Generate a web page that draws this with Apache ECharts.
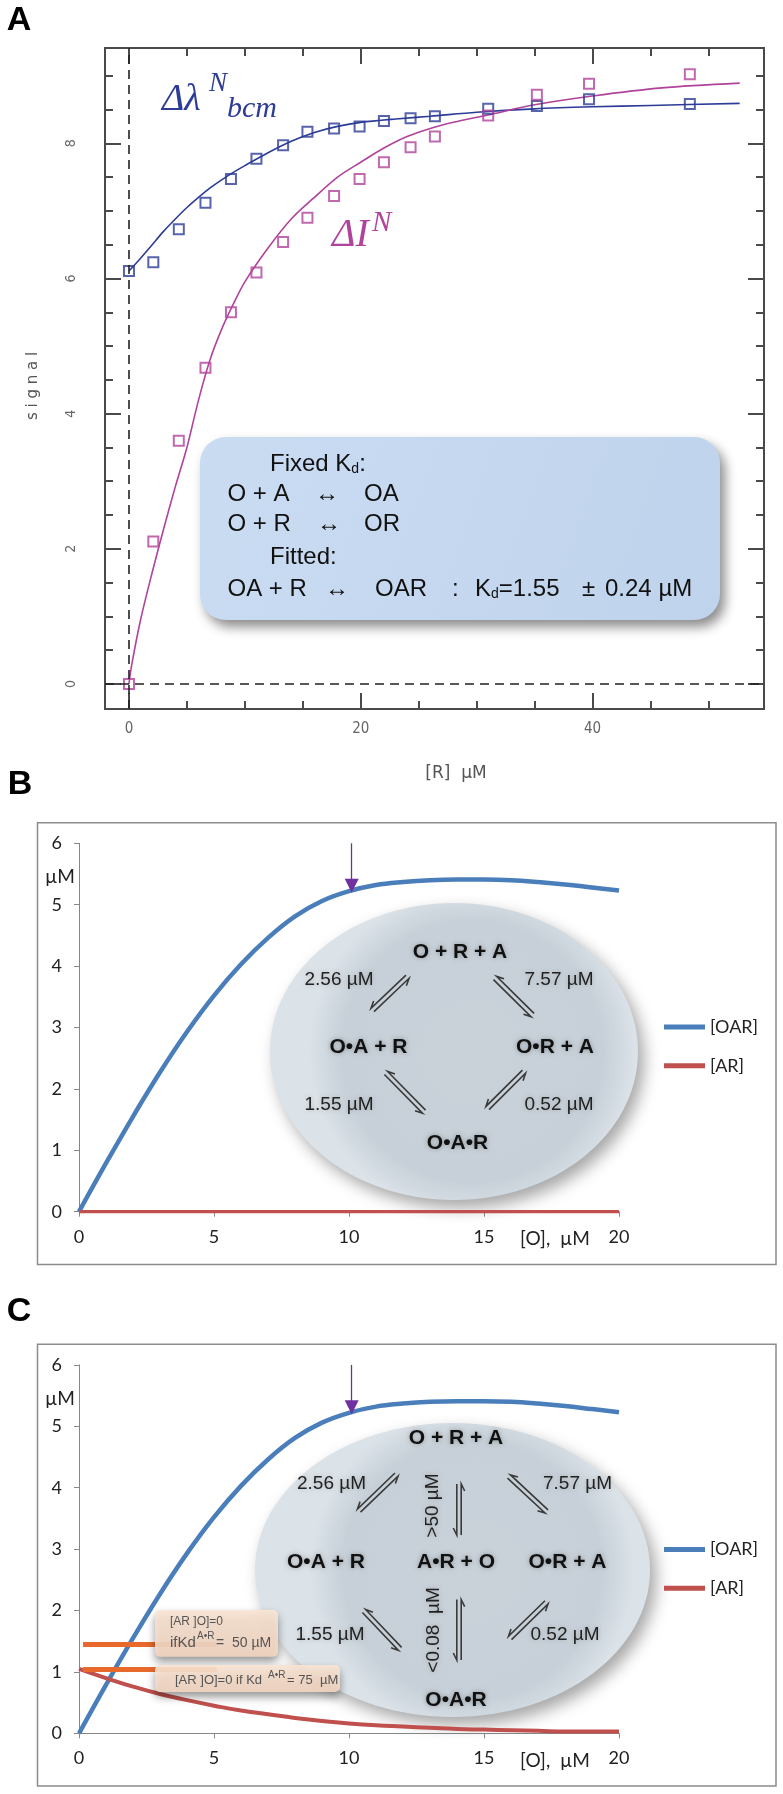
<!DOCTYPE html>
<html>
<head>
<meta charset="utf-8">
<script src="https://cdn.jsdelivr.net/npm/echarts@6/dist/echarts.min.js"></script>
<style>
  html, body { margin: 0; padding: 0; background: #fff; }
  #chart { width: 783px; height: 1794px; }
</style>
</head>
<body>
<div id="chart"></div>
<script>
// ---- panel A: titration data ----
const xPtsA = [0, 2.1, 4.3, 6.6, 8.8, 11.0, 13.3, 15.4, 17.7, 19.9, 22.0, 24.3, 26.4, 31.0, 35.2, 39.7, 48.4]
const lambdaPts = [6.11, 6.24, 6.73, 7.12, 7.47, 7.77, 7.97, 8.17, 8.22, 8.25, 8.33, 8.37, 8.40, 8.51, 8.55, 8.65, 8.58]
const intensPts = [0, 2.11, 3.60, 4.68, 5.50, 6.09, 6.54, 6.90, 7.22, 7.47, 7.72, 7.94, 8.10, 8.41, 8.72, 8.88, 9.02]

const lambdaFitX = [0, 1, 2, 3, 4, 5, 6, 7, 8, 9, 10, 12, 14, 16, 18, 20, 23, 26, 30, 35, 40, 45, 52.7]
const lambdaFitY = [6.11, 6.3, 6.5, 6.7, 6.88, 7.05, 7.2, 7.34, 7.46, 7.57, 7.67, 7.86, 8.03, 8.16, 8.25, 8.31, 8.36, 8.4, 8.46, 8.51, 8.54, 8.56, 8.59]
const intensFitX = [0, 0.2, 1, 2, 3, 4, 5, 6, 7, 8, 9, 10, 12, 14, 16, 18, 20, 22, 24, 26, 28, 31, 35, 40, 46, 52.7]
const intensFitY = [0, 0.25, 0.95, 1.65, 2.3, 2.92, 3.5, 4.2, 4.8, 5.25, 5.62, 5.95, 6.45, 6.88, 7.2, 7.5, 7.72, 7.93, 8.1, 8.22, 8.31, 8.42, 8.57, 8.7, 8.82, 8.89]

const xTicksA = [0, 5, 10, 15, 20, 25, 30, 35, 40, 45, 50]
const xLabelsA = [0, 20, 40]
const yTicksA = [0, 0.5, 1, 1.5, 2, 2.5, 3, 3.5, 4, 4.5, 5, 5.5, 6, 6.5, 7, 7.5, 8, 8.5, 9]
const yLabelsA = [0, 2, 4, 6, 8]

// ---- panels B and C: simulated concentrations ----
const oX = [0, 1, 2, 3, 4, 5, 6, 7, 8, 9, 10, 11, 12, 13, 14, 15, 16, 17, 18, 19, 20]
const oarY = [0, 0.79, 1.55, 2.27, 2.93, 3.52, 4.03, 4.46, 4.81, 5.06, 5.22, 5.32, 5.37, 5.4, 5.41, 5.41, 5.4, 5.37, 5.33, 5.28, 5.23]
const arYB = [0, 0, 0, 0, 0, 0, 0, 0, 0, 0, 0, 0, 0, 0, 0, 0, 0, 0, 0, 0, 0]
const arYC = [1.05, 0.9, 0.76, 0.64, 0.54, 0.45, 0.37, 0.31, 0.25, 0.2, 0.16, 0.13, 0.11, 0.09, 0.07, 0.06, 0.05, 0.04, 0.03, 0.03, 0.03]

const BLUE_A = '#2d3c96'
const MAG_A = '#b0439b'
const OAR_C = '#4a7ebb'
const AR_C = '#c0504d'
const SANS = 'Liberation Sans, Arial, sans-serif'
const SERIF = 'Liberation Serif, Times New Roman, serif'
const PIX = 'DejaVu Sans Condensed, DejaVu Sans, sans-serif'
const LATO = 'Lato, Open Sans, sans-serif'

const pts = (xs, ys) => xs.map((x, i) => [x, ys[i]])

function txt(x, y, s, o, extra) {
  return Object.assign({
    type: 'text', x: x, y: y, z: 30,
    style: Object.assign({ text: s, fill: '#111', fontFamily: SANS, fontSize: 19, align: 'center', verticalAlign: 'middle' }, o)
  }, extra || {})
}

// pair of half-arrows (equilibrium sign) between two points
function harpoons(x1, y1, x2, y2) {
  const dx = x2 - x1, dy = y2 - y1, L = Math.hypot(dx, dy)
  const ux = dx / L, uy = dy / L, nx = -uy, ny = ux, o = 2.2, h = 7, b = 3.5
  const st = { stroke: '#3a3a3a', lineWidth: 1.6, fill: null }
  return [
    { type: 'polyline', z: 25, shape: { points: [[x1 + nx * o, y1 + ny * o], [x2 + nx * o, y2 + ny * o], [x2 + nx * o - ux * h + nx * b, y2 + ny * o - uy * h + ny * b]] }, style: st },
    { type: 'polyline', z: 25, shape: { points: [[x2 - nx * o, y2 - ny * o], [x1 - nx * o, y1 - ny * o], [x1 - nx * o + ux * h - nx * b, y1 - ny * o + uy * h - ny * b]] }, style: st }
  ]
}

function ellipse(cx, cy, rx, ry) {
  return {
    type: 'ellipse', z: 1, shape: { cx: cx, cy: cy, rx: rx, ry: ry },
    style: {
      fill: new echarts.graphic.RadialGradient(0.55, 0.5, 0.55, [
        { offset: 0, color: '#c9d1d9' }, { offset: 0.8, color: '#c7d0d8' }, { offset: 1, color: '#dbe2e8' }
      ]),
      shadowBlur: 16, shadowColor: 'rgba(0,0,0,0.35)', shadowOffsetX: 6, shadowOffsetY: 8
    }
  }
}

const aTick = { color: '#4a4a4a', width: 2 }
function axA(dim, pos, ticks, len, labels) {
  const ax = {
    gridIndex: 0, type: 'value', position: pos,
    min: dim === 'x' ? -2.07 : -0.37, max: dim === 'x' ? 54.8 : 9.41,
    axisLine: { show: false, onZero: false }, splitLine: { show: false },
    axisTick: { inside: true, length: len, customValues: ticks, lineStyle: aTick },
    axisLabel: { show: false }
  }
  if (labels) {
    ax.axisLabel = dim === 'x'
      ? { customValues: labels, margin: 13, color: '#666', fontFamily: PIX, fontSize: 15 }
      : { customValues: labels, rotate: 90, margin: 27, color: '#666', fontFamily: PIX, fontSize: 14 }
  }
  return ax
}

const axBC = (g) => ({
  gridIndex: g, type: 'value', splitLine: { show: false },
  axisLine: { lineStyle: { color: '#878787', width: 1 } },
  axisTick: { length: 5, lineStyle: { color: '#878787' } },
  axisLabel: { margin: 16, fontFamily: LATO, fontSize: 18, color: '#222' }
})

const graphics = []
// frames of B and C
graphics.push({ type: 'rect', z: 0, shape: { x: 37.5, y: 822.7, width: 738.5, height: 441.7 }, style: { fill: null, stroke: '#8c8c8c', lineWidth: 1.5 } })
graphics.push({ type: 'rect', z: 0, shape: { x: 37.5, y: 1344.3, width: 738.5, height: 441.7 }, style: { fill: null, stroke: '#8c8c8c', lineWidth: 1.5 } })

// panel letters
graphics.push(txt(19, 21, 'A', { fontSize: 34, fontWeight: 'bold', fill: '#000' }))
graphics.push(txt(20, 785, 'B', { fontSize: 34, fontWeight: 'bold', fill: '#000' }))
graphics.push(txt(19, 1312, 'C', { fontSize: 34, fontWeight: 'bold', fill: '#000' }))

// panel A labels
graphics.push(txt(162, 100, 'Δλ', { fontFamily: SERIF, fontStyle: 'italic', fontSize: 38, fill: BLUE_A, align: 'left' }))
graphics.push(txt(209, 84, 'N', { fontFamily: SERIF, fontStyle: 'italic', fontSize: 27, fill: BLUE_A, align: 'left' }))
graphics.push(txt(227, 109, 'bcm', { fontFamily: SERIF, fontStyle: 'italic', fontSize: 30, fill: BLUE_A, align: 'left' }))
graphics.push(txt(332, 235, 'ΔI', { fontFamily: SERIF, fontStyle: 'italic', fontSize: 40, fill: MAG_A, align: 'left' }))
graphics.push(txt(372, 223, 'N', { fontFamily: SERIF, fontStyle: 'italic', fontSize: 29, fill: MAG_A, align: 'left' }))
graphics.push(txt(33, 386, 's i g n a l', { fontFamily: 'DejaVu Sans', fontSize: 15, fill: '#555' }, { rotation: Math.PI / 2 }))
graphics.push(txt(456, 774, '[R]  µM', { fontFamily: 'DejaVu Sans', fontSize: 17, fill: '#555' }))

// panel A fit box
graphics.push({
  type: 'rect', z: 10, shape: { x: 200, y: 437, width: 520, height: 183, r: 26 },
  style: {
    fill: new echarts.graphic.LinearGradient(0, 0, 1, 1, [{ offset: 0, color: '#cadcf2' }, { offset: 1, color: '#bfd3ec' }]),
    shadowBlur: 12, shadowColor: 'rgba(0,0,0,0.45)', shadowOffsetX: 5, shadowOffsetY: 7
  }
})
const boxT = { fontSize: 24, align: 'left', fill: '#111' }
const kdRich = { n: { fontSize: 24, fontFamily: SANS }, s: { fontSize: 14, fontFamily: SANS, verticalAlign: 'bottom' } }
graphics.push(txt(270, 464.5, '{n|Fixed K}{s|d}{n|:}', { align: 'left', rich: kdRich }))
graphics.push(txt(227.5, 494.5, 'O + A', boxT))
graphics.push(txt(315, 494.5, '↔', boxT))
graphics.push(txt(364, 494.5, 'OA', boxT))
graphics.push(txt(227.5, 524.5, 'O + R', boxT))
graphics.push(txt(317, 524.5, '↔', boxT))
graphics.push(txt(364, 524.5, 'OR', boxT))
graphics.push(txt(270, 557.8, 'Fitted:', boxT))
graphics.push(txt(227.5, 589.5, 'OA + R', boxT))
graphics.push(txt(325, 589.5, '↔', boxT))
graphics.push(txt(375, 589.5, 'OAR', boxT))
graphics.push(txt(452, 589.5, ':', boxT))
graphics.push(txt(475, 589.5, '{n|K}{s|d}{n|=1.55}', { align: 'left', rich: kdRich }))
graphics.push(txt(582, 589.5, '±', boxT))
graphics.push(txt(605, 589.5, '0.24 µM', boxT))

// panels B and C axis titles
const axT = { fontFamily: LATO, fontSize: 19, fill: '#222' }
graphics.push(txt(60, 877, 'µM', axT))
graphics.push(txt(60, 1398.5, 'µM', axT))
graphics.push(txt(555, 1239, '[O],  µM', axT))
graphics.push(txt(555, 1760.5, '[O],  µM', axT))

// panel B scheme
const sp = { fontWeight: 'bold', fontSize: 21, textShadowBlur: 5, textShadowColor: 'rgba(0,0,0,0.3)' }
const kd = { fontSize: 19, fill: '#222', textShadowBlur: 4, textShadowColor: 'rgba(0,0,0,0.2)' }
graphics.push(ellipse(454, 1051.5, 184, 148.5))
graphics.push(txt(460, 952, 'O + R + A', sp))
graphics.push(txt(339, 980, '2.56 µM', kd))
graphics.push(txt(559, 980, '7.57 µM', kd))
graphics.push(txt(368.5, 1047, 'O•A + R', sp))
graphics.push(txt(555, 1047, 'O•R + A', sp))
graphics.push(txt(339, 1105, '1.55 µM', kd))
graphics.push(txt(559, 1105, '0.52 µM', kd))
graphics.push(txt(457.5, 1143.5, 'O•A•R', sp))
graphics.push(...harpoons(372.5, 1010, 407.5, 976.7))
graphics.push(...harpoons(495, 978, 532.5, 1015))
graphics.push(...harpoons(424, 1111.7, 386, 1073))
graphics.push(...harpoons(487.5, 1108, 524, 1071.7))

// panel C scheme
graphics.push(ellipse(452.5, 1570, 197.5, 147))
graphics.push(txt(456, 1438, 'O + R + A', sp))
graphics.push(txt(331.5, 1484, '2.56 µM', kd))
graphics.push(txt(577.5, 1484, '7.57 µM', kd))
graphics.push(txt(433, 1505.5, '>50 µM', kd, { rotation: Math.PI / 2 }))
graphics.push(txt(326, 1562, 'O•A + R', sp))
graphics.push(txt(456, 1562, 'A•R + O', sp))
graphics.push(txt(567.5, 1562, 'O•R + A', sp))
graphics.push(txt(434, 1630, '<0.08  µM', kd, { rotation: Math.PI / 2 }))
graphics.push(txt(330, 1635, '1.55 µM', kd))
graphics.push(txt(565, 1635, '0.52 µM', kd))
graphics.push(txt(456, 1700, 'O•A•R', sp))
graphics.push(...harpoons(359, 1510.6, 396.5, 1474.6))
graphics.push(...harpoons(509, 1476.5, 546.5, 1511.4))
graphics.push(...harpoons(400, 1648.9, 364, 1611))
graphics.push(...harpoons(510, 1638, 546.5, 1602.3))
graphics.push(...harpoons(459, 1535, 459, 1484))
graphics.push(...harpoons(459, 1660, 459, 1599.6))

// panel C notes
const noteFill = new echarts.graphic.LinearGradient(0, 0, 0, 1, [{ offset: 0, color: 'rgba(250,229,212,0.9)' }, { offset: 1, color: 'rgba(244,214,193,0.9)' }])
graphics.push({ type: 'rect', z: 28, shape: { x: 155, y: 1610, width: 123, height: 46.7, r: 5 }, style: { fill: noteFill, shadowBlur: 8, shadowColor: 'rgba(0,0,0,0.45)', shadowOffsetY: 5 } })
graphics.push({ type: 'rect', z: 28, shape: { x: 155, y: 1665, width: 185, height: 27, r: 5 }, style: { fill: noteFill, shadowBlur: 8, shadowColor: 'rgba(0,0,0,0.45)', shadowOffsetY: 5 } })
const nt = { fill: '#555', align: 'left' }
graphics.push(txt(170, 1622, '[AR ]O]=0', Object.assign({ fontSize: 12 }, nt)))
graphics.push(txt(170, 1643, 'ifKd', Object.assign({ fontSize: 15 }, nt)))
graphics.push(txt(197, 1636, 'A•R', Object.assign({ fontSize: 10 }, nt)))
graphics.push(txt(216, 1643, '=  50 µM', Object.assign({ fontSize: 14 }, nt)))
graphics.push(txt(175, 1680, '[AR ]O]=0 if Kd', Object.assign({ fontSize: 13 }, nt)))
graphics.push(txt(268, 1675, 'A•R', Object.assign({ fontSize: 10 }, nt)))
graphics.push(txt(287, 1680, '= 75  µM', Object.assign({ fontSize: 13 }, nt)))

const purple = {
  silent: true, symbol: ['none', 'triangle'], symbolSize: 14,
  label: { show: false }, lineStyle: { color: '#7030a0', width: 1.3, type: 'solid' },
  itemStyle: { color: '#7030a0' },
  data: [[{ coord: [10.1, 6] }, { coord: [10.1, 5.31] }]]
}

const legendBase = {
  orient: 'vertical', left: 659, icon: 'rect', itemWidth: 41, itemHeight: 5, itemGap: 18.7,
  data: ['[OAR]', '[AR]'], selectedMode: false,
  textStyle: { fontFamily: LATO, fontSize: 18, color: '#222', lineHeight: 20 }
}

const chart = echarts.init(document.getElementById('chart'))
chart.setOption({
  animation: false,
  grid: [
    { left: 105, top: 48, width: 659, height: 661, show: true, borderColor: '#4a4a4a', borderWidth: 2, backgroundColor: 'transparent' },
    { left: 79, top: 843.3, width: 540, height: 368.4 },
    { left: 79, top: 1364.9, width: 540, height: 368.4 }
  ],
  legend: [Object.assign({ top: 1012 }, legendBase), Object.assign({ top: 1534.5 }, legendBase)],
  xAxis: [
    axA('x', 'bottom', xLabelsA, 16, xLabelsA),
    axA('x', 'bottom', xTicksA, 8),
    axA('x', 'top', xLabelsA, 16),
    axA('x', 'top', xTicksA, 8),
    Object.assign(axBC(1), { min: 0, max: 20, interval: 5 }),
    Object.assign(axBC(2), { min: 0, max: 20, interval: 5 })
  ],
  yAxis: [
    axA('y', 'left', yLabelsA, 16, yLabelsA),
    axA('y', 'left', yTicksA, 8),
    axA('y', 'right', yLabelsA, 16),
    axA('y', 'right', yTicksA, 8),
    Object.assign(axBC(1), { min: 0, max: 6, interval: 1, axisLabel: { margin: 17, fontFamily: LATO, fontSize: 18, color: '#222' } }),
    Object.assign(axBC(2), { min: 0, max: 6, interval: 1, axisLabel: { margin: 17, fontFamily: LATO, fontSize: 18, color: '#222' } })
  ],
  graphic: { elements: graphics },
  series: [
    {
      type: 'line', xAxisIndex: 0, yAxisIndex: 0, data: pts(lambdaFitX, lambdaFitY),
      showSymbol: false, smooth: 0.3, lineStyle: { color: BLUE_A, width: 1.6 }
    },
    {
      type: 'line', xAxisIndex: 0, yAxisIndex: 0, data: pts(intensFitX, intensFitY),
      showSymbol: false, smooth: 0.3, lineStyle: { color: MAG_A, width: 1.6 }
    },
    {
      type: 'scatter', xAxisIndex: 0, yAxisIndex: 0, data: pts(xPtsA, lambdaPts), z: 4,
      symbol: 'rect', symbolSize: 10,
      itemStyle: { color: 'rgba(255,255,255,0)', borderColor: BLUE_A, borderWidth: 2 },
      markLine: {
        silent: true, symbol: 'none', label: { show: false },
        lineStyle: { color: '#222', width: 1.6, type: [9, 6] },
        data: [{ xAxis: 0 }, { yAxis: 0 }]
      }
    },
    {
      type: 'scatter', xAxisIndex: 0, yAxisIndex: 0, data: pts(xPtsA, intensPts), z: 4,
      symbol: 'rect', symbolSize: 10,
      itemStyle: { color: 'rgba(255,255,255,0)', borderColor: MAG_A, borderWidth: 2 }
    },
    {
      name: '[OAR]', type: 'line', xAxisIndex: 4, yAxisIndex: 4, data: pts(oX, oarY), smooth: 0.4,
      showSymbol: false, lineStyle: { color: OAR_C, width: 4.5 }, itemStyle: { color: OAR_C }, markLine: purple
    },
    {
      name: '[AR]', type: 'line', xAxisIndex: 4, yAxisIndex: 4, data: pts(oX, arYB),
      showSymbol: false, lineStyle: { color: AR_C, width: 3.5 }, itemStyle: { color: AR_C }
    },
    {
      name: '[OAR]', type: 'line', xAxisIndex: 5, yAxisIndex: 5, data: pts(oX, oarY), smooth: 0.4,
      showSymbol: false, lineStyle: { color: OAR_C, width: 4.5 }, itemStyle: { color: OAR_C }, markLine: purple
    },
    {
      name: '[AR]', type: 'line', xAxisIndex: 5, yAxisIndex: 5, data: pts(oX, arYC), smooth: true,
      showSymbol: false, lineStyle: { color: AR_C, width: 4 }, itemStyle: { color: AR_C },
      markLine: {
        silent: true, symbol: 'none', label: { show: false },
        lineStyle: { color: '#e8692c', width: 5, type: 'solid' },
        data: [
          [{ coord: [0.15, 1.45] }, { coord: [5.1, 1.45] }],
          [{ coord: [0.15, 1.04] }, { coord: [5.1, 1.04] }]
        ]
      }
    }
  ]
})
</script>
</body>
</html>
